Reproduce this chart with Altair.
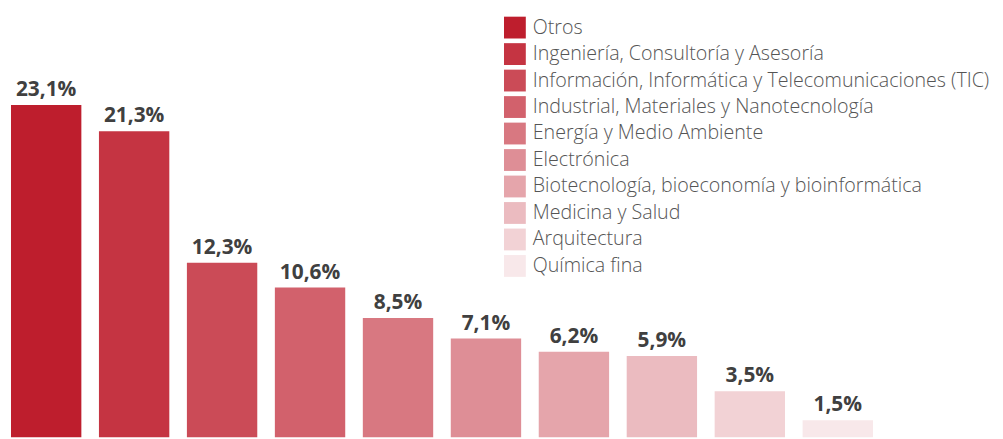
import altair as alt
import pandas as pd

categories = [
    "Otros",
    "Ingeniería, Consultoría y Asesoría",
    "Información, Informática y Telecomunicaciones (TIC)",
    "Industrial, Materiales y Nanotecnología",
    "Energía y Medio Ambiente",
    "Electrónica",
    "Biotecnología, bioeconomía y bioinformática",
    "Medicina y Salud",
    "Arquitectura",
    "Química fina",
]
values = [23.1, 21.3, 12.3, 10.6, 8.5, 7.1, 6.2, 5.9, 3.5, 1.5]
colors = ["#be1e2d", "#c53442", "#cb4b57", "#d2616c", "#d87881",
          "#de8e96", "#e5a5ab", "#ebbbc0", "#f2d2d5", "#f8e8ea"]

df = pd.DataFrame({"cat": categories, "v": values})

x = alt.X("cat:N", sort=categories, axis=None,
          scale=alt.Scale(paddingInner=0.2, paddingOuter=0.034))
y = alt.Y("v:Q", axis=None,
          scale=alt.Scale(domain=[0.34, 29.62], zero=False, nice=False))

bars = alt.Chart(df).mark_bar(clip=True).encode(
    x=x,
    y=y,
    y2=alt.datum(0),
    color=alt.Color(
        "cat:N",
        scale=alt.Scale(domain=categories, range=colors),
        legend=alt.Legend(
            title=None,
            orient="none",
            legendX=500,
            legendY=7,
            symbolType="square",
            symbolSize=484,
            symbolStrokeWidth=0,
            symbolOpacity=1,
            labelFont="Open Sans",
            labelFontWeight=300,
            labelFontSize=19.8,
            labelColor="#555555",
            labelOffset=7,
            labelLimit=600,
            rowPadding=4.7,
            padding=0,
        ),
    ),
)

text = alt.Chart(df).transform_calculate(
    lab="replace(format(datum.v, '.1f'), '.', ',') + '%'"
).mark_text(
    font="Open Sans", fontWeight="bold", fontSize=21, color="#404040",
    baseline="bottom", dy=-5,
).encode(x=x, y=y, text="lab:N")

chart = (bars + text).properties(
    width=875, height=431,
    autosize=alt.AutoSizeParams(type="none"),
    padding={"left": 0, "top": 0, "right": 120, "bottom": 0},
).configure_view(stroke=None)

chart.save("out.html", embed_options={"renderer": "svg", "actions": False})
